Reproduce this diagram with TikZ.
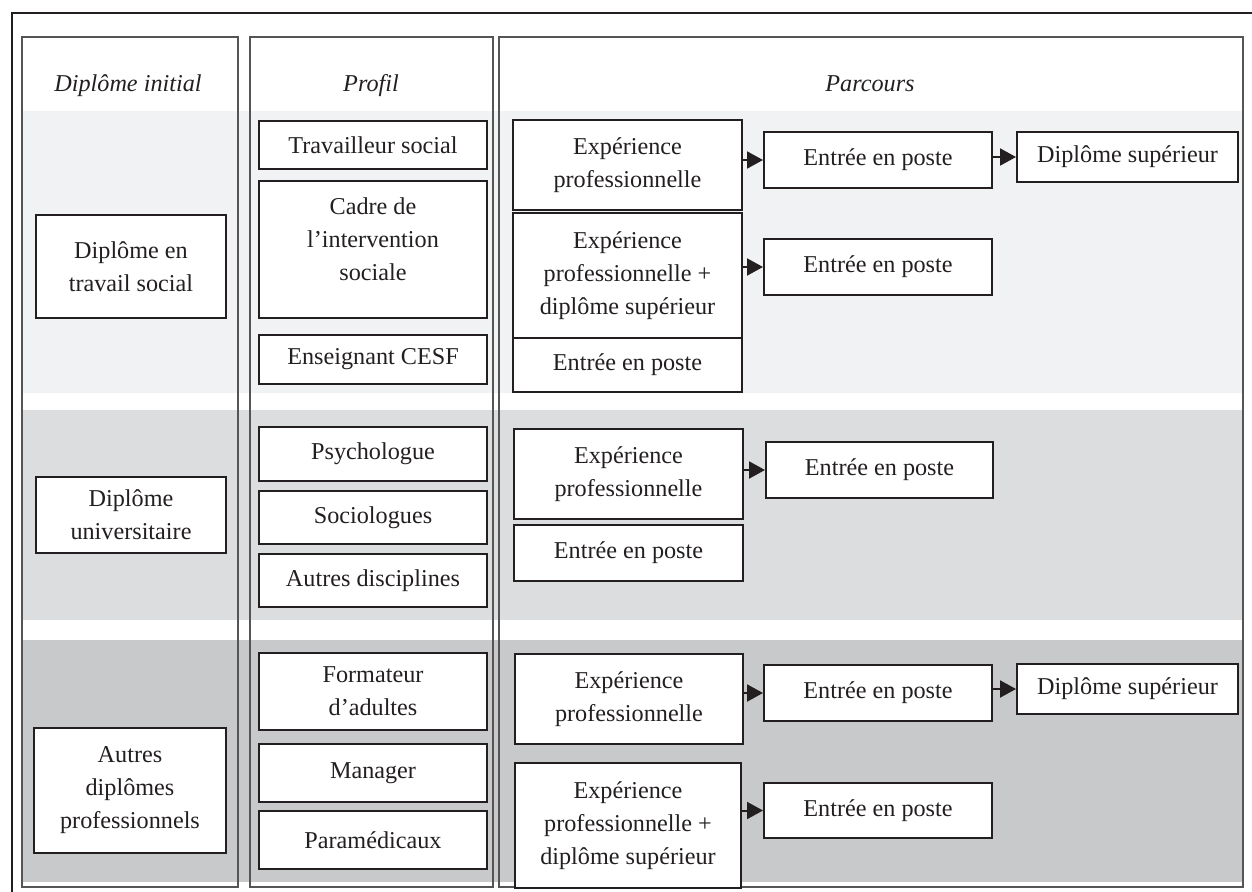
\documentclass[tikz,border=0pt]{standalone}
\usepackage{fontspec}
\setmainfont{Liberation Serif}
\usetikzlibrary{arrows.meta}
\definecolor{bandA}{HTML}{F1F2F4}
\definecolor{bandB}{HTML}{DCDDDF}
\definecolor{bandC}{HTML}{C8C9CB}
\definecolor{boxline}{HTML}{231F20}
\definecolor{colline}{HTML}{555555}
\newcommand\bx[7][]{\node[box,minimum width={(#5-#3)*1pt},minimum height={(#6-#4)*1pt},#1] (#2) at ({(#3+#5)/2},{(#4+#6)/2}) {#7};}
\begin{document}
\begin{tikzpicture}[x=1pt,y=-1pt,
  box/.style={draw=boxline, line width=2pt, fill=white, align=center, inner sep=0pt, text=boxline, font=\fontsize{24.2}{33}\selectfont},
  conn/.style={line width=2pt, draw=boxline, -{Triangle[length=16pt,width=17pt]}},
  colframe/.style={draw=colline, line width=1.2pt},
  hdr/.style={text=boxline, anchor=base, font=\fontsize{24.2}{33}\selectfont\itshape}]
\useasboundingbox (0,0) rectangle (1252,891);
\clip (0,0) rectangle (1252,891);
% bands
\fill[bandA] (22,111) rectangle (1243,393);
\fill[bandB] (22,410) rectangle (1243,620);
\fill[bandC] (22,640) rectangle (1243,882);
% outer frame
\draw[boxline, line width=2.2pt] (12,900) -- (12,13) -- (1260,13);
% columns
\draw[colframe] (22,37) rectangle (238,887);
\draw[colframe] (250,37) rectangle (493,887);
\draw[colframe] (499,37) rectangle (1243,887);
% headers
\node[hdr] (h1) at (128,91) {Diplôme initial};
\node[hdr] (h2) at (371,91) {Profil};
\node[hdr] (h3) at (870,91) {Parcours};
% column 1
\bx{d1}{36}{215}{226}{318}{Diplôme en\\travail social}
\bx{d2}{36}{477}{226}{553}{Diplôme\\universitaire}
\bx{d3}{34}{728}{226}{853}{Autres\\diplômes\\professionnels}
% column 2
\bx{p1}{259}{121}{487}{169}{Travailleur social}
\bx[text depth=20pt]{p2}{259}{181}{487}{318}{Cadre de\\l’intervention\\sociale}
\bx{p3}{259}{335}{487}{384}{Enseignant CESF}
\bx{p4}{259}{427}{487}{481}{Psychologue}
\bx{p5}{259}{491}{487}{544}{Sociologues}
\bx{p6}{259}{554}{487}{607}{Autres disciplines}
\bx{p7}{259}{653}{487}{730}{Formateur\\d’adultes}
\bx{p8}{259}{744}{487}{802}{Manager}
\bx{p9}{259}{811}{487}{869}{Paramédicaux}
% column 3, band 1
\bx{a1}{513}{120}{742}{210}{Expérience\\professionnelle}
\bx{a2}{513}{213}{742}{338}{Expérience\\professionnelle +\\diplôme supérieur}
\bx{a3}{513}{338}{742}{392}{Entrée en poste}
\bx{e1}{764}{132}{992}{188}{Entrée en poste}
\bx{s1}{1017}{132}{1238}{182}{Diplôme supérieur}
\bx{e2}{764}{239}{992}{295}{Entrée en poste}
% band 2
\bx{b1}{514}{429}{743}{519}{Expérience\\professionnelle}
\bx{b2}{514}{525}{743}{581}{Entrée en poste}
\bx{e3}{766}{442}{993}{498}{Entrée en poste}
% band 3
\bx{c1}{515}{654}{743}{744}{Expérience\\professionnelle}
\bx{c2}{515}{763}{741}{888}{Expérience\\professionnelle +\\diplôme supérieur}
\bx{e4}{764}{665}{992}{721}{Entrée en poste}
\bx{s2}{1017}{664}{1238}{714}{Diplôme supérieur}
\bx{e5}{764}{783}{992}{838}{Entrée en poste}
% connectors
\draw[conn] (a1.east |- e1) -- (e1.west);
\draw[conn] (e1.east |- s1) -- (s1.west);
\draw[conn] (a2.east |- e2) -- (e2.west);
\draw[conn] (b1.east |- e3) -- (e3.west);
\draw[conn] (c1.east |- e4) -- (e4.west);
\draw[conn] (e4.east |- s2) -- (s2.west);
\draw[conn] (c2.east |- e5) -- (e5.west);
\end{tikzpicture}
\end{document}
